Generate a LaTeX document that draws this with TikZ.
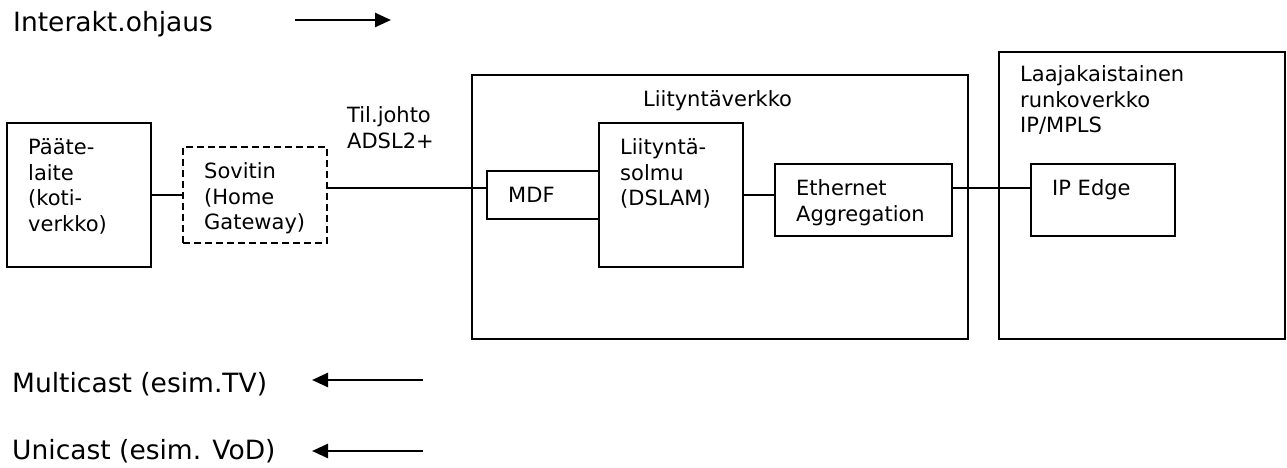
\documentclass[tikz,border=0pt]{standalone}
\usepackage{fontspec}
\usetikzlibrary{arrows.meta}
\setmainfont{DejaVu Sans}

\tikzset{
  box/.style={draw, line width=2.5pt, inner sep=0pt},
  gwbox/.style={box, dash pattern=on 7pt off 4pt},
  wire/.style={line width=2.5pt},
  flow/.style={line width=2.5pt, -{Triangle[length=16pt,width=14pt]}},
  txt/.style={anchor=base west, align=left, inner sep=0pt,
    font=\fontsize{21}{25.5}\selectfont},
  legend/.style={anchor=base west, inner sep=0pt,
    font=\fontsize{26.5}{30}\selectfont}
}

\begin{document}
\begin{tikzpicture}[x=1pt,y=1pt]
      \useasboundingbox (0,0) rectangle (1287,468);

      % boxes
      \node[box, minimum width=144, minimum height=144] (paate) at (79,273) {};
      \node[gwbox, minimum width=144, minimum height=96] (sovitin) at (255,273) {};
      \node[box, minimum width=496, minimum height=264] (accnet) at (720,261) {};
      \node[box, minimum width=112, minimum height=48] (mdf) at (543,273) {};
      \node[box, minimum width=144, minimum height=144] (dslam) at (671,273) {};
      \node[box, minimum width=177, minimum height=72] (ethagg) at (863.5,268) {};
      \node[box, minimum width=286, minimum height=287] (core) at (1142,272.5) {};
      \node[box, minimum width=144, minimum height=72] (ipedge) at (1103,268) {};

      % box texts (anchored at the baseline of the last line)
      \node[txt] (paate-t) at (28,236.5) {Pääte-\\laite\\(koti-\\verkko)};
      \node[txt] (sovitin-t) at (204,238) {Sovitin\\(Home\\Gateway)};
      \node[txt] (line-t) at (347,319.5) {Til.johto\\ADSL2+};
      \node[txt] (accnet-t) at (643,361) {Liityntäverkko};
      \node[txt] (mdf-t) at (508,265) {MDF};
      \node[txt] (dslam-t) at (620,262) {Liityntä-\\solmu\\(DSLAM)};
      \node[txt] (ethagg-t) at (796,246.5) {Ethernet\\Aggregation};
      \node[txt] (core-t) at (1020,335) {Laajakaistainen\\runkoverkko\\IP/MPLS};
      \node[txt] (ipedge-t) at (1052,272) {IP Edge};

      % links
      \draw[wire] (paate.east) -- (sovitin.west);
      \draw[wire] ([yshift=7]sovitin.east) -- ([yshift=7]mdf.west);
      \draw[wire] (dslam.east) -- (dslam.east -| ethagg.west);
      \draw[wire] ([yshift=12]ethagg.east) -- ([yshift=12]ipedge.west);

      % legend
      \node[legend] (ctrl) at (13,436) {Interakt.ohjaus};
      \node[legend] (mcast) at (12,75) {Multicast (esim.TV)};
      \node[legend] (ucast) at (12,8) {Unicast (esim. VoD)};

      \coordinate (ctrl-a) at (295,448);
      \coordinate (ctrl-b) at (391,448);
      \coordinate (mcast-a) at (423,88);
      \coordinate (mcast-b) at (312,88);
      \coordinate (ucast-a) at (423,17);
      \coordinate (ucast-b) at (312,17);
      \draw[flow] (ctrl-a) -- (ctrl-b);
      \draw[flow] (mcast-a) -- (mcast-b);
      \draw[flow] (ucast-a) -- (ucast-b);
\end{tikzpicture}
\end{document}
